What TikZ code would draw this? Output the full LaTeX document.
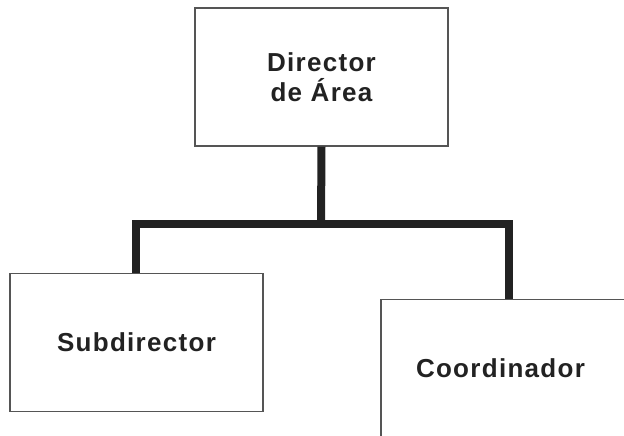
\documentclass[tikz,border=0pt]{standalone}
\usepackage{fontspec}
\setmainfont{Liberation Sans}[LetterSpace=5]
\definecolor{boxgray}{HTML}{555555}
\definecolor{linedark}{HTML}{222222}

\begin{document}
\begin{tikzpicture}[x=1pt, y=-1pt,
    orgbox/.style={draw=boxgray, line width=1.2pt, fill=white, inner sep=0pt,
      minimum width=253pt, minimum height=138pt, text=linedark,
      font=\fontsize{26}{30}\selectfont\bfseries, align=center},
    orgline/.style={draw=linedark, line width=8pt}]
  \clip (0,0) rectangle (624,436);
  \fill[white] (0,0) rectangle (624,436);

  % junction of the connectors
  \coordinate (junc) at (321,224);

  % boxes
  \node[orgbox] (dir)   at (321.5,77)  {Director\\de Área};
  \node[orgbox] (sub)   at (136.5,342.5) {Subdirector};
  \node[orgbox] (coord) at (507.5,368.5) {Coordinador\hspace{14pt}};

  % connectors
  \draw[orgline] (dir.south) -- (junc);
  \draw[orgline] (sub.north -| 135.5,0) |- (junc);
  \draw[orgline] (junc) -| (coord.north -| 509,0);
\end{tikzpicture}
\end{document}
